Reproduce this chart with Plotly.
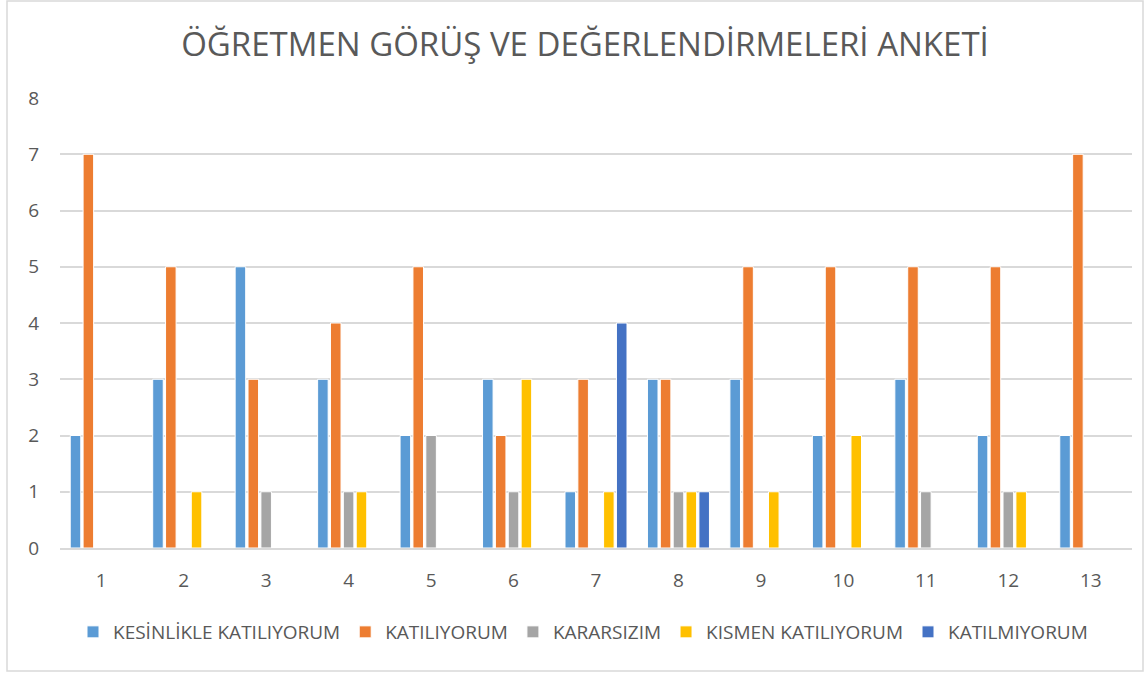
import plotly.graph_objects as go

categories = ["1", "2", "3", "4", "5", "6", "7", "8", "9", "10", "11", "12", "13"]
series_names = ["KESİNLİKLE KATILIYORUM", "KATILIYORUM", "KARARSIZIM", "KISMEN KATILIYORUM", "KATILMIYORUM"]
kesinlikle = [2, 3, 5, 3, 2, 3, 1, 3, 3, 2, 3, 2, 2]
katiliyorum = [7, 5, 3, 4, 5, 2, 3, 3, 5, 5, 5, 5, 7]
kararsizim = [0, 0, 1, 1, 2, 1, 0, 1, 0, 0, 1, 1, 0]
kismen = [0, 1, 0, 1, 0, 3, 1, 1, 1, 2, 0, 1, 0]
katilmiyorum = [0, 0, 0, 0, 0, 0, 4, 1, 0, 0, 0, 0, 0]
y_ticks = [0, 1, 2, 3, 4, 5, 6, 7, 8]

colors = ["#5B9BD5", "#ED7D31", "#A5A5A5", "#FFC000", "#4472C4"]
values = [kesinlikle, katiliyorum, kararsizim, kismen, katilmiyorum]

W, H = 1146, 673
L, R, T, B = 60, 14, 98, 125
FONT = "Open Sans"
TXT = "#595959"

fig = go.Figure()
for name, vals, col in zip(series_names, values, colors):
    fig.add_trace(go.Bar(
        x=categories, y=vals, name=name,
        marker=dict(color=col, line=dict(color="white", width=1)),
    ))

pw = W - L - R
ph = H - T - B
def px(x):
    return (x - L) / pw
def py(y):
    return (H - B - y) / ph

fig.update_layout(
    width=W, height=H,
    margin=dict(l=L, r=R, t=T, b=B),
    paper_bgcolor="white", plot_bgcolor="white",
    barmode="group", bargap=0.22, bargroupgap=0.18,
    title=dict(text="ÖĞRETMEN GÖRÜŞ VE DEĞERLENDİRMELERİ ANKETİ",
               font=dict(family=FONT, size=33, color=TXT),
               x=585 / W, xanchor="center", y=1 - 44 / H, yanchor="middle"),
    font=dict(family=FONT, color=TXT),
    xaxis=dict(showgrid=False, showline=True, linecolor="#D9D9D9", linewidth=1.5,
               ticks="", tickfont=dict(size=19, color=TXT), ticklabelstandoff=14),
    yaxis=dict(range=[0, 8], tickvals=y_ticks, showgrid=True, gridcolor="#D9D9D9",
               gridwidth=1.5, zeroline=False, ticks="",
               tickfont=dict(size=19, color=TXT), ticklabelstandoff=20),
    legend=dict(orientation="h", x=583 / W, xref="container", xanchor="center",
                y=1 - 632 / H, yref="container", yanchor="middle",
                font=dict(family=FONT, size=19, color=TXT),
                itemwidth=30, traceorder="normal"),
    showlegend=True,
    shapes=[dict(type="rect", xref="paper", yref="paper",
                 x0=px(7), x1=px(1143), y0=py(671), y1=py(1),
                 line=dict(color="#D9D9D9", width=1.5), fillcolor="rgba(0,0,0,0)",
                 layer="below")],
)

fig.write_html("out.html", config={"displayModeBar": False},
               post_script="document.body.style.margin='0';document.body.style.overflow='hidden';")
